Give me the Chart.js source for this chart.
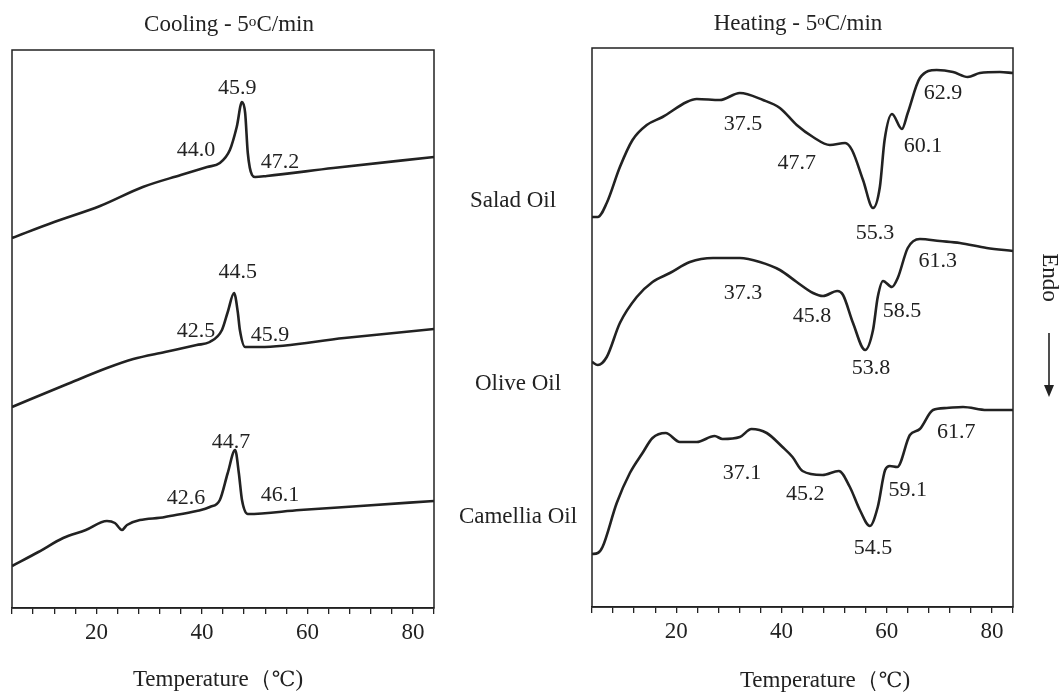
<!DOCTYPE html>
<html>
<head>
<meta charset="utf-8">
<script src="https://cdn.jsdelivr.net/npm/chart.js@4.4.1/dist/chart.umd.min.js"></script>
<style>
  html, body { margin: 0; padding: 0; background: #fff; }
  #wrap { position: relative; width: 1060px; height: 692px; overflow: hidden; }
  canvas { position: absolute; left: 0; top: 0; }
  .txt { position: absolute; font-family: "Liberation Serif", "Times New Roman", serif; font-size: 23px; line-height: 23px; color: #222; white-space: nowrap; transform: translateX(-50%); }
  .txt sup { font-size: 0.66em; position: relative; top: -0.36em; vertical-align: baseline; line-height: 0; }
  .cel { font-family: "DejaVu Serif", serif; font-size: 0.92em; }
</style>
</head>
<body>
<div id="wrap">
  <canvas id="cooling" width="1060" height="692"></canvas>
  <canvas id="heating" width="1060" height="692"></canvas>

  <div class="txt" style="left:229px; top:12px;">Cooling - 5<sup>o</sup>C/min</div>
  <div class="txt" style="left:798px; top:11px;">Heating - 5<sup>o</sup>C/min</div>

  <div class="txt" style="left:513px; top:188px;">Salad Oil</div>
  <div class="txt" style="left:518px; top:371px;">Olive Oil</div>
  <div class="txt" style="left:518px; top:504px;">Camellia Oil</div>

  <div class="txt" style="left:218px; top:667px;">Temperature（<span class="cel">℃</span>)</div>
  <div class="txt" style="left:825px; top:668px;">Temperature（<span class="cel">℃</span>)</div>

  <div class="txt" style="left:1050px; top:266px; transform: translateX(-50%) rotate(90deg);">Endo</div>
  <svg style="position:absolute; left:1040px; top:330px;" width="20" height="70">
    <line x1="9" y1="3" x2="9" y2="56" stroke="#222" stroke-width="1.6"/>
    <polygon points="4,55 14,55 9,67" fill="#222"/>
  </svg>
</div>

<script>
// temperature axis (°C)
const tempMin = 4;
const tempMax = 84;
const tempStep = 4;
const tempLabels = [20, 40, 60, 80];

// cooling curves, 5 °C/min  (T in °C, heat flow in arbitrary units)
const coolSaladT  = [4, 12, 20.7, 28.8, 36, 41, 43.4, 45.3, 46.6, 47.6, 48.2, 48.7, 49.5, 50.1, 52.3, 64.9, 84];
const coolSaladHF = [37.0, 38.6, 40.2, 42.1, 43.3, 44.1, 44.5, 45.8, 48.1, 50.6, 49.5, 45.5, 43.3, 43.1, 43.2, 44.0, 45.1];

const coolOliveT  = [4, 14.5, 22, 27, 33, 39, 41.5, 43.8, 44.9, 46.1, 46.8, 47.2, 48.2, 51.0, 67, 84];
const coolOliveHF = [20.1, 22.4, 24.0, 24.9, 25.6, 26.3, 26.6, 27.8, 29.6, 31.5, 29.6, 27.8, 26.1, 26.1, 27.0, 27.9];

const coolCamelliaT  = [4, 9, 13.7, 18, 22.0, 23.5, 24.85, 25.8, 33, 39, 41.5, 43.4, 44.9, 46.3, 47.0, 47.6, 48.7, 58.6, 70, 84];
const coolCamelliaHF = [4.2, 5.6, 7.0, 7.8, 8.7, 8.5, 7.8, 8.3, 9.1, 9.7, 10.1, 10.8, 13.5, 15.8, 13.5, 10.8, 9.4, 9.8, 10.2, 10.7];

// heating curves, 5 °C/min
const heatSaladT  = [4, 5.1, 6.8, 9.3, 11.7, 14.4, 17.4, 22.0, 23.9, 28.3, 32.1, 36.5, 39.7, 42.9, 46.0, 49.2, 52.1, 53.4,
                     55.5, 57.4, 58.7, 59.6, 61.0, 62.9, 64.0, 66.3, 69.5, 72.6, 75.4, 77.7, 81.5, 84];
const heatSaladHF = [39.0, 39.0, 40.4, 44.0, 46.7, 48.2, 49.0, 50.5, 50.8, 50.7, 51.4, 50.7, 49.9, 48.2, 47.0, 46.2, 46.4, 45.7,
                     42.7, 39.9, 42.0, 46.7, 49.3, 47.8, 49.4, 52.9, 53.7, 53.5, 53.0, 53.4, 53.5, 53.4];

const heatOliveT  = [4, 5.1, 6.8, 9.3, 12.5, 15.5, 18.8, 22.6, 27.0, 32.1, 35.9, 39.7, 42.9, 46.0, 47.9, 50.6, 51.7,
                     53.6, 55.9, 57.4, 58.3, 59.3, 61.0, 62.1, 64.0, 66.3, 70.1, 73.9, 79.0, 84];
const heatOliveHF = [24.5, 24.2, 25.0, 28.4, 31.0, 32.5, 33.4, 34.5, 34.9, 34.9, 34.5, 33.7, 32.5, 31.4, 31.1, 31.6, 31.2,
                     28.4, 25.7, 27.7, 31.0, 32.6, 32.0, 32.9, 35.9, 36.8, 36.6, 36.4, 35.9, 35.6];

const heatCamelliaT  = [4, 5.1, 6.0, 8.7, 11.2, 13.6, 15.5, 18.0, 20.7, 23.9, 27.3, 28.8, 32.1, 34.3, 37.2, 40.2, 42.1, 44.0,
                        47.8, 50.9, 53.0, 54.9, 56.8, 58.3, 59.7, 60.6, 62.0, 64.4, 66.3, 68.8, 71.4, 74.5, 79.0, 84];
const heatCamelliaHF = [5.3, 5.4, 6.0, 10.4, 13.4, 15.4, 16.9, 17.4, 16.5, 16.5, 17.1, 16.8, 17.0, 17.8, 17.4, 16.0, 15.0, 13.6,
                        13.2, 13.6, 12.0, 9.7, 8.1, 10.0, 13.7, 14.1, 14.0, 17.2, 17.8, 19.7, 19.9, 20.0, 19.7, 19.7];

// peak temperature labels: [text, T, heat flow]
const coolPeaks = [
  ['45.9', 46.7, 52.0], ['44.0', 38.9, 45.8], ['47.2', 54.8, 44.6],
  ['44.5', 46.8, 33.6], ['42.5', 38.9, 27.7], ['45.9', 52.9, 27.3],
  ['44.7', 45.5, 16.6], ['42.6', 37.0, 11.0], ['46.1', 54.8, 11.3]
];
const heatPeaks = [
  ['37.5', 32.7, 48.3], ['47.7', 42.9, 44.4], ['55.3', 57.8, 37.4], ['60.1', 66.9, 46.1], ['62.9', 70.7, 51.4],
  ['37.3', 32.7, 31.4], ['45.8', 45.8, 29.1], ['53.8', 57.0, 23.9], ['58.5', 62.9, 29.6], ['61.3', 69.7, 34.6],
  ['37.1', 32.5, 13.4], ['45.2', 44.5, 11.3], ['54.5', 57.4, 5.9], ['59.1', 64.0, 11.7], ['61.7', 73.2, 17.5]
];

const ink = '#222';
const serif = '"Liberation Serif", "Times New Roman", serif';

function pairs(xs, ys) {
  return xs.map((x, i) => ({ x: x, y: ys[i] }));
}

function trace(xs, ys) {
  return {
    data: pairs(xs, ys),
    borderColor: ink,
    borderWidth: 2.6,
    pointRadius: 0,
    fill: false,
    cubicInterpolationMode: 'monotone'
  };
}

function peakLabels(labels) {
  return {
    id: 'peakLabels',
    afterDraw(chart) {
      const { ctx, scales } = chart;
      ctx.save();
      // frame round the plot
      const a = chart.chartArea;
      ctx.strokeStyle = ink;
      ctx.lineWidth = 1.5;
      ctx.strokeRect(a.left, a.top, a.width, a.height);
      ctx.fillStyle = ink;
      ctx.font = '22px ' + serif;
      ctx.textAlign = 'center';
      ctx.textBaseline = 'middle';
      labels.forEach(([text, t, v]) => {
        ctx.fillText(text, scales.x.getPixelForValue(t), scales.y.getPixelForValue(v));
      });
      ctx.restore();
    }
  };
}

function makeChart(id, series, labels, pad, yMax, axisHeight) {
  return new Chart(document.getElementById(id), {
    type: 'line',
    data: { datasets: series },
    options: {
      responsive: false,
      animation: false,
      layout: { padding: pad },
      plugins: { legend: { display: false }, tooltip: { enabled: false } },
      scales: {
        x: {
          type: 'linear',
          min: tempMin,
          max: tempMax,
          afterFit: (axis) => { axis.height = axisHeight; },
          ticks: {
            stepSize: tempStep,
            autoSkip: false,
            maxRotation: 0,
            padding: 5,
            color: ink,
            font: { family: serif, size: 23 },
            callback: (v) => tempLabels.includes(v) ? String(v) : ''
          },
          grid: { drawOnChartArea: false, drawTicks: true, tickLength: 6, color: ink, lineWidth: 1.3 },
          border: { display: true, color: ink, width: 1.5 }
        },
        y: { display: false, min: 0, max: yMax }
      }
    },
    plugins: [peakLabels(labels)]
  });
}

makeChart('cooling',
  [trace(coolSaladT, coolSaladHF), trace(coolOliveT, coolOliveHF), trace(coolCamelliaT, coolCamelliaHF)],
  coolPeaks, { left: 12, right: 626, top: 50, bottom: 0 }, 55.8, 84);

makeChart('heating',
  [trace(heatSaladT, heatSaladHF), trace(heatOliveT, heatOliveHF), trace(heatCamelliaT, heatCamelliaHF)],
  heatPeaks, { left: 592, right: 47, top: 48, bottom: 0 }, 55.9, 85);
</script>
</body>
</html>
